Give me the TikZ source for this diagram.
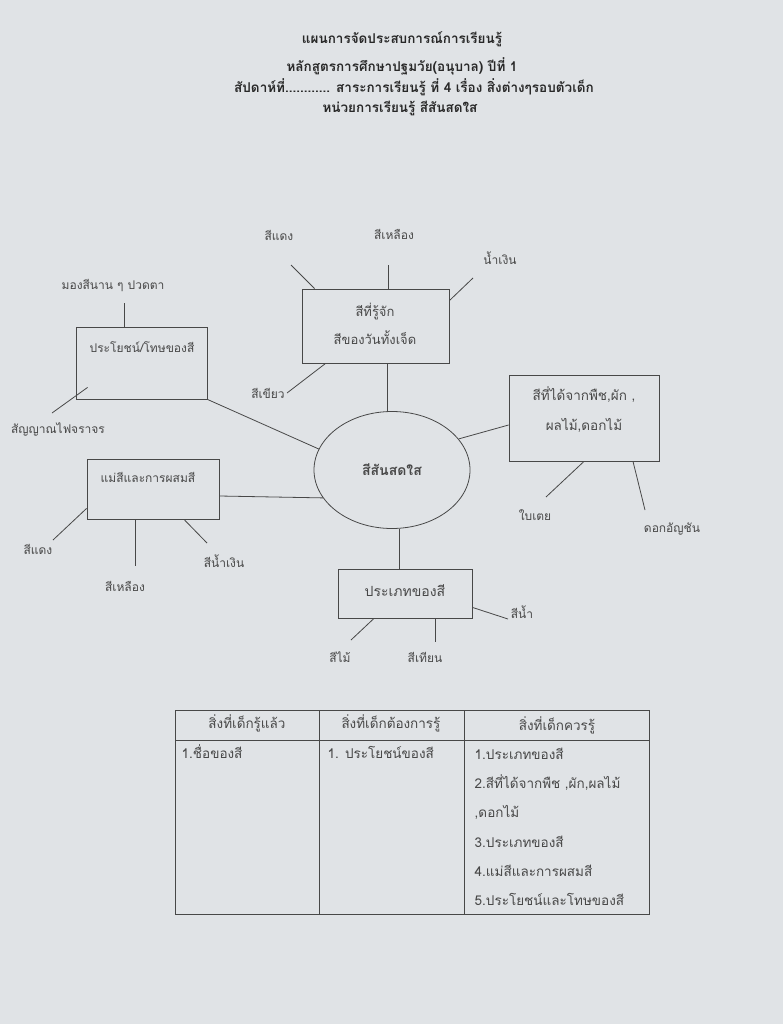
\documentclass[tikz,border=0pt]{standalone}
\usepackage{fontspec}
\setmainfont[Script=Thai]{Loma}
\usepackage{tikz}
\usetikzlibrary{positioning}
\usetikzlibrary{calc}
\usetikzlibrary{shapes.geometric}
\definecolor{paper}{RGB}{224,227,230}
\definecolor{ink}{RGB}{72,72,72}
\definecolor{darkink}{RGB}{40,40,40}

\begin{document}
\begin{tikzpicture}[x=1pt, y=-1pt, draw=ink, line width=0.8pt,
    every node/.style={text=ink, font=\fontsize{12}{14}\selectfont},
    head/.style={text=darkink, font=\bfseries\fontsize{13.5}{16}\selectfont},
    box/.style={draw, rectangle, inner sep=0pt},
    leaf/.style={inner sep=1pt},
    cell/.style={font=\fontsize{13.5}{16}\selectfont}]
    \fill[paper] (0,0) rectangle (783,1024);
    \useasboundingbox (0,0) rectangle (783,1024);

    \node[head] (t1) at (402,39) {แผนการจัดประสบการณ์การเรียนรู้};
    \node[head] (t2) at (402,66) {หลักสูตรการศึกษาปฐมวัย(อนุบาล) ปีที่ 1};
    \node[head] (t3) at (414,87) {สัปดาห์ที่............ สาระการเรียนรู้ ที่ 4 เรื่อง สิ่งต่างๆรอบตัวเด็ก};
    \node[head] (t4) at (400,108) {หน่วยการเรียนรู้ สีสันสดใส};

    \node[draw, ellipse, minimum width=156pt, minimum height=117pt,
        font=\bfseries\fontsize{14}{16}\selectfont] (ctr) at (392,470) {สีสันสดใส};

    \node[box, minimum width=147pt, minimum height=74pt] (know) at (375.5,326) {};
    \node[box, minimum width=131pt, minimum height=72pt] (usef) at (141.5,363) {};
    \node[box, minimum width=150pt, minimum height=86pt] (plant) at (584,418) {};
    \node[box, minimum width=132pt, minimum height=60pt] (mix) at (153,489) {};
    \node[box, minimum width=134pt, minimum height=49pt] (kind) at (405,593.5) {};

    \node[align=center, font=\fontsize{13}{28}\selectfont] (knowt) at (375,324) {สีที่รู้จัก\\สีของวันทั้งเจ็ด};
    \node (useft) at (142,347) {ประโยชน์/โทษของสี};
    \node[align=center, font=\fontsize{13.5}{30}\selectfont] (plantt) at (584,410) {สีที่ได้จากพืช,ผัก ,\\ผลไม้,ดอกไม้};
    \node (mixt) at (148,477) {แม่สีและการผสมสี};
    \node[font=\fontsize{14}{16}\selectfont] (kindt) at (405,591) {ประเภทของสี};

    \node[leaf] (k1) at (279,235) {สีแดง};
    \node[leaf] (k2) at (394,234) {สีเหลือง};
    \node[leaf] (k3) at (500,258) {น้ำเงิน};
    \node[leaf] (k4) at (268,393) {สีเขียว};
    \node[leaf] (u1) at (113,286) {มองสีนาน ๆ ปวดตา};
    \node[leaf] (u2) at (58,429) {สัญญาณไฟจราจร};
    \node[leaf] (p1) at (535,515) {ใบเตย};
    \node[leaf] (p2) at (672,529) {ดอกอัญชัน};
    \node[leaf] (m1) at (38,549) {สีแดง};
    \node[leaf] (m2) at (125,586) {สีเหลือง};
    \node[leaf] (m3) at (224,561) {สีน้ำเงิน};
    \node[leaf] (s1) at (340,657) {สีไม้};
    \node[leaf] (s2) at (425,657) {สีเทียน};
    \node[leaf] (s3) at (522,612) {สีน้ำ};

    \coordinate (ke1) at (291,265);
    \coordinate (ke2) at (388,265);
    \coordinate (ke3) at (473,278);
    \coordinate (ke4) at (287,393);
    \coordinate (ue1) at (124,303);
    \coordinate (ue2) at (52,413);
    \coordinate (pe1) at (546,497);
    \coordinate (pe2) at (645,510);
    \coordinate (me1) at (53,540);
    \coordinate (me2) at (135,566);
    \coordinate (me3) at (207,543);
    \coordinate (se1) at (351,640);
    \coordinate (se2) at (435,642);
    \coordinate (se3) at (508,619);

    \draw ([xshift=11.5pt]know.south) -- ([xshift=-5pt]ctr.north);
    \draw (usef.south east) -- (ctr.164);
    \draw ([yshift=-7pt]plant.west) -- (ctr.25);
    \draw ([yshift=-7pt]mix.east) -- (ctr.202);
    \draw ([xshift=-6pt]kind.north) -- ([xshift=7pt]ctr.south);

    \draw ([xshift=13pt]know.north west) -- (ke1);
    \draw ([xshift=12.5pt]know.north) -- (ke2);
    \draw ([yshift=-12pt]know.north east) -- (ke3);
    \draw ([xshift=24pt]know.south west) -- (ke4);
    \draw ([xshift=-17.5pt]usef.north) -- (ue1);
    \draw ([shift={(12pt,12pt)}]usef.south west) -- (ue2);
    \draw (plant.south) -- (pe1);
    \draw ([xshift=49pt]plant.south) -- (pe2);
    \draw ([yshift=11pt]mix.south west) -- (me1);
    \draw ([xshift=-18pt]mix.south) -- (me2);
    \draw ([xshift=31pt]mix.south) -- (me3);
    \draw ([xshift=-31pt]kind.south) -- (se1);
    \draw ([xshift=30pt]kind.south) -- (se2);
    \draw ([yshift=11pt]kind.south east) -- (se3);

    \draw (175,710) rectangle (649,914);
    \draw (175,740) -- (649,740);
    \draw (319,710) -- (319,914);
    \draw (464,710) -- (464,914);
    \node[cell] (h1) at (247,723) {สิ่งที่เด็กรู้แล้ว};
    \node[cell] (h2) at (391,723) {สิ่งที่เด็กต้องการรู้};
    \node[cell] (h3) at (557,725) {สิ่งที่เด็กควรรู้};
    \node[cell, anchor=west] (c1) at (178,752) {1.ชื่อของสี};
    \node[cell, anchor=west] (c2) at (324,752) {1. ประโยชน์ของสี};
    \node[cell, anchor=north west, align=left, font=\fontsize{13.5}{29.3}\selectfont] (c3) at (471,744)
        {1.ประเภทของสี\\2.สีที่ได้จากพืช ,ผัก,ผลไม้\\,ดอกไม้\\3.ประเภทของสี\\4.แม่สีและการผสมสี\\5.ประโยชน์และโทษของสี};
\end{tikzpicture}
\end{document}
